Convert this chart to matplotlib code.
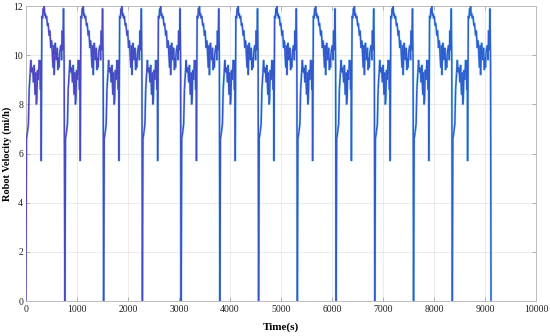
import numpy as np
import matplotlib
matplotlib.use("Agg")
import matplotlib.pyplot as plt
from matplotlib.collections import LineCollection

# one drive cycle: seconds after the stop, speed (mi/h)
cycle_t = [0, 12, 33, 50, 65, 85, 98, 112, 131, 150, 163, 175, 183, 196, 206, 216, 229,
           245, 261, 274, 286, 294, 300, 314, 328, 340, 350, 359, 369, 379, 392, 405,
           424, 435, 444, 458, 470, 490, 500, 509, 522, 535, 545, 555, 565, 575, 594,
           614, 628, 640, 650, 660, 686, 700, 712, 725, 738, 750]
cycle_v = [0, 6.6, 6.9, 7.2, 8.6, 9.3, 9.8, 9.3, 9.5, 8.9, 9.6, 8.7, 8.4, 9.3, 8.0,
           8.2, 9.4, 9.0, 9.8, 9.6, 8.6, 9.8, 5.7, 11.6, 11.5, 11.9, 11.7, 12.0, 11.6,
           11.7, 11.5, 11.6, 11.2, 11.3, 11.1, 10.8, 11.0, 10.3, 10.6, 10.5, 9.9, 9.5,
           10.4, 9.2, 10.0, 10.5, 9.8, 10.3, 9.4, 9.9, 9.5, 10.1, 10.4, 9.8, 11.0,
           10.2, 11.9, 9.6]

# start times of each cycle (where the robot stops)
cycle_starts = [0, 765, 1524, 2283, 3042, 3801, 4560, 5319, 6078, 6837, 7596, 8355]
end_t = 9114

t = np.concatenate([np.array(cycle_t) + s for s in cycle_starts] + [[end_t]])
v = np.concatenate([cycle_v] * len(cycle_starts) + [[0]])

plt.rcParams['font.family'] = ['Liberation Serif', 'DejaVu Serif']

fig = plt.figure(figsize=(5.5, 3.36), dpi=100)
ax = fig.add_axes([0.047, 0.104, 0.928, 0.878])

# faint cyan halo under a line that goes from violet-blue to blue over time
pts = np.column_stack([t, v]).reshape(-1, 1, 2)
segs = np.concatenate([pts[:-1], pts[1:]], axis=1)
ax.plot(t, v, color="#40c0ee", lw=1.8, alpha=0.35, zorder=2)
cmap = matplotlib.colors.LinearSegmentedColormap.from_list("pb", ["#5444c0", "#3456ca", "#2c60d0"])
lc = LineCollection(segs, cmap=cmap, linewidths=1.1, zorder=3)
lc.set_array(t[:-1])
ax.add_collection(lc)

ax.set_xlim(0, 10000)
ax.set_ylim(0, 12)
ax.set_xticks(np.arange(0, 10001, 1000))
ax.set_yticks(np.arange(0, 13, 2))
ax.grid(True, color="#e8e8e8", lw=0.6)
ax.set_axisbelow(True)
for sp in ax.spines.values():
    sp.set_color("#bcbcbc")
    sp.set_linewidth(0.7)
ax.tick_params(direction="in", length=3, width=0.5, color="#999999",
               labelsize=7, pad=3, top=True, right=True, labelcolor="#222222")
ax.tick_params(axis="y", pad=2)

ax.set_xlabel("Time(s)", fontsize=8, fontweight="bold", labelpad=6)
ax.set_ylabel("Robot Velocity (mi/h)", fontsize=7.5, fontweight="bold", labelpad=1)

fig.savefig("out.png", dpi=100)
